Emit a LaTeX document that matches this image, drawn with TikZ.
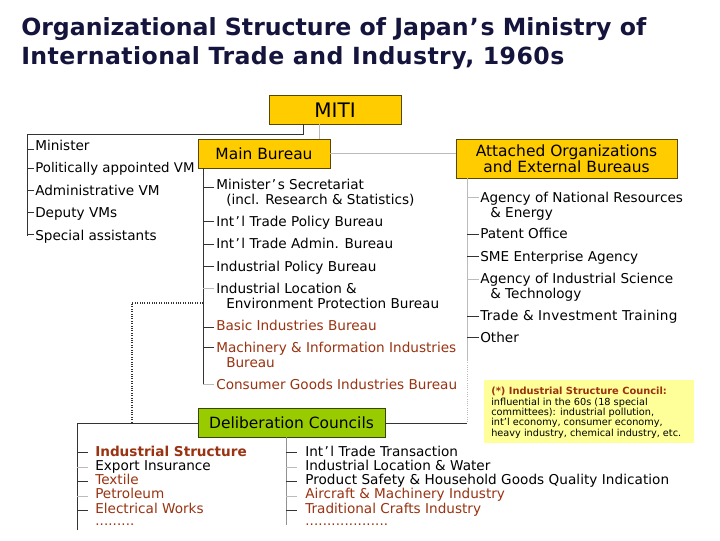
\documentclass[tikz,border=0pt]{standalone}
\usepackage{fontspec}
\setmainfont{DejaVu Sans}
\definecolor{boxgold}{HTML}{FFCC00}
\definecolor{boxgreen}{HTML}{99CC00}
\definecolor{notefill}{HTML}{FFFF99}
\definecolor{bureaured}{HTML}{993311}
\definecolor{titleblue}{HTML}{14143C}
\definecolor{darkline}{HTML}{333333}
\definecolor{lightline}{HTML}{BBBBBB}
\newcommand{\ind}{\hspace*{7.5pt}}
\newcommand{\apos}{\kern1pt’\kern1.2pt}
\tikzset{
  x=0.75pt,y=-0.75pt,
  head/.style={draw=#1!35!black,line width=0.7pt,inner sep=0pt,align=center,font=\fontsize{11.6}{12}\selectfont,text=black},
  lab/.style={anchor=north west,inner sep=0pt,align=left,font=\fontsize{10.2}{10.9}\selectfont,text=#1},
  lab/.default=black,
  dots/.style={anchor=north west,inner sep=0pt,text=bureaured,font=\fontsize{10}{10}\selectfont\addfontfeature{LetterSpace=1}},
  dk/.style={draw=darkline,line width=0.7pt},
  lt/.style={draw=lightline,line width=0.7pt},
  dotl/.style={draw=darkline,line width=0.8pt,densely dotted},
  notet/.style={anchor=north west,inner sep=0pt,align=left,font=\fontsize{7.3}{7.75}\selectfont}
}
\begin{document}
\begin{tikzpicture}
\useasboundingbox (0,0) rectangle (720,540);
\fill[white] (0,0) rectangle (720,540);
% title
\node[name=title,anchor=north west,inner sep=0pt,align=left,text=titleblue,font=\fontsize{17.7}{22}\bfseries\selectfont] at (21,17) {Organizational Structure of Japan\apos s Ministry of\\\addfontfeature{LetterSpace=1.8}International Trade and Industry, 1960s};
% headers
\node[head=boxgold,fill=boxgold,minimum width=132*0.75pt,minimum height=29*0.75pt,font=\fontsize{15}{16}\selectfont] (miti) at (335,110) {MITI};
\node[head=boxgold,fill=boxgold,minimum width=132*0.75pt,minimum height=29*0.75pt] (main) at (264,153.5) {Main Bureau};
\node[head=boxgold,fill=boxgold,minimum width=221*0.75pt,minimum height=39*0.75pt] (att) at (566.5,158.5) {Attached Organizations\\and External Bureaus};
\node[head=boxgreen,fill=boxgreen,minimum width=187*0.75pt,minimum height=29*0.75pt] (delib) at (291.5,423) {Deliberation Councils};
% note
\node[fill=notefill,anchor=north west,inner sep=0pt,minimum width=210*0.75pt,minimum height=63*0.75pt] (notebox) at (484,380) {};
\node[notet] (note) at (491,387) {\textcolor{bureaured}{\fontsize{7.4}{7.75}\selectfont\bfseries (*) Industrial Structure Council:}\\influential in the 60s (18 special\\committees): industrial pollution,\\int’l economy, consumer economy,\\heavy industry, chemical industry, etc.};
% left list
\node[lab] (a1) at (35,140) {Minister};
\node[lab,font=\fontsize{10}{10.9}\selectfont] (a2) at (35,162) {Politically appointed VM};
\node[lab] (a3) at (35,184.5) {Administrative VM};
\node[lab] (a4) at (35,207) {Deputy VMs};
\node[lab] (a5) at (35,229.5) {Special assistants};
% main list
\node[lab] (b1) at (216,179) {Minister\apos s Secretariat\\\ind(incl. Research \& Statistics)};
\node[lab] (b2) at (216,215.5) {Int\apos l Trade Policy Bureau};
\node[lab] (b3) at (216,238) {Int\apos l Trade Admin. Bureau};
\node[lab] (b4) at (216,260.5) {Industrial Policy Bureau};
\node[lab] (b5) at (216,283) {Industrial Location \&\\\ind Environment Protection Bureau};
\node[lab=bureaured] (b6) at (216,319.5) {Basic Industries Bureau};
\node[lab=bureaured] (b7) at (216,342) {Machinery \& Information Industries\\\ind Bureau};
\node[lab=bureaured] (b8) at (216,378.5) {Consumer Goods Industries Bureau};
% attached list
\node[lab] (c1) at (480,192) {Agency of National Resources\\\ind\& Energy};
\node[lab] (c2) at (480,228) {Patent Office};
\node[lab] (c3) at (480,250.5) {SME Enterprise Agency};
\node[lab] (c4) at (480,273) {Agency of Industrial Science\\\ind\& Technology};
\node[lab] (c5) at (480,309.5) {\addfontfeature{LetterSpace=1.8}Trade \& Investment Training};
\node[lab] (c6) at (480,332) {Other};
% council lists
\node[lab=bureaured,font=\fontsize{10.2}{10.9}\bfseries\selectfont] (d1) at (95,445.5) {Industrial Structure};
\node[lab] (d2) at (95,460) {Export Insurance};
\node[lab=bureaured] (d3) at (95,474) {Textile};
\node[lab=bureaured] (d4) at (95,488) {Petroleum};
\node[lab=bureaured] (d5) at (95,502.5) {Electrical Works};
\node[dots] (d6) at (95,523.5) {.........};
\node[lab] (e1) at (305,445.5) {Int\apos l Trade Transaction};
\node[lab] (e2) at (305,460) {Industrial Location \& Water};
\node[lab] (e3) at (305,474) {\addfontfeature{LetterSpace=0.3}Product Safety \& Household Goods Quality Indication};
\node[lab=bureaured] (e4) at (305,488) {Aircraft \& Machinery Industry};
\node[lab=bureaured] (e5) at (305,502.5) {Traditional Crafts Industry};
\node[dots] (e6) at (305,523.5) {...................};
% spines
\coordinate (sa) at (27,134);
\coordinate (sb) at (203,168);
\coordinate (sc) at (467,178);
\coordinate (sd) at (77,423);
\coordinate (se) at (286,437);
\coordinate (mitiL) at (303,124);
\coordinate (mitiM) at (319.5,124);
% main connectors
\draw[dk] (mitiL) -- (303,134) -- (sa) -- (27,236);
\draw[lt] (mitiM) -- (319.5,139);
\draw[lt] (main.east) -- (main.east -| att.west);
\draw[dk] (sb) -- (203,385);
\draw[lt] (sc) -- (467,360);
\draw[lightline,line width=0.7pt,densely dotted] (467,360) -- (467,423);
\draw[dk] (delib.east) -- (467,423);
\draw[dk] (delib.west) -- (sd) -- (77,530);
\draw[lightline!70!darkline,line width=0.7pt] (se) -- (286,525);
\draw[dotl] (203,303) -- (132,303) -- (132,423);
% ticks: left
\foreach \n/\yy in {a1/149,a2/168,a3/190.5,a4/212,a5/234}
  \draw[dk] (\n.west |- 0,\yy) ++(-1,0) -- (sa |- 0,\yy);
% ticks: main
\foreach \n/\yy in {b1/187,b2/221,b3/244,b4/266,b6/327,b7/347}
  \draw[dk] (\n.west |- 0,\yy) ++(-2,0) -- (203,\yy);
\foreach \n/\yy in {b5/288,b8/384}
  \draw[lt] (\n.west |- 0,\yy) ++(-2,0) -- (203,\yy);
% ticks: attached
\foreach \n/\yy in {c2/234,c3/256,c5/316,c6/337}
  \draw[dk] (\n.west |- 0,\yy) ++(-1,0) -- (sc |- 0,\yy);
\foreach \n/\yy in {c1/197,c4/279}
  \draw[lt] (\n.west |- 0,\yy) ++(-1,0) -- (sc |- 0,\yy);
% ticks: councils
\foreach \yy in {452,481,510}
  \draw[dk] (sd |- 0,\yy) -- (88,\yy);
\foreach \yy in {467,496}
  \draw[lt] (sd |- 0,\yy) -- (88,\yy);
\foreach \yy in {452,481,510}
  \draw[dk] (se |- 0,\yy) -- (297,\yy);
\foreach \yy in {467,496}
  \draw[lt] (se |- 0,\yy) -- (297,\yy);
\end{tikzpicture}
\end{document}
